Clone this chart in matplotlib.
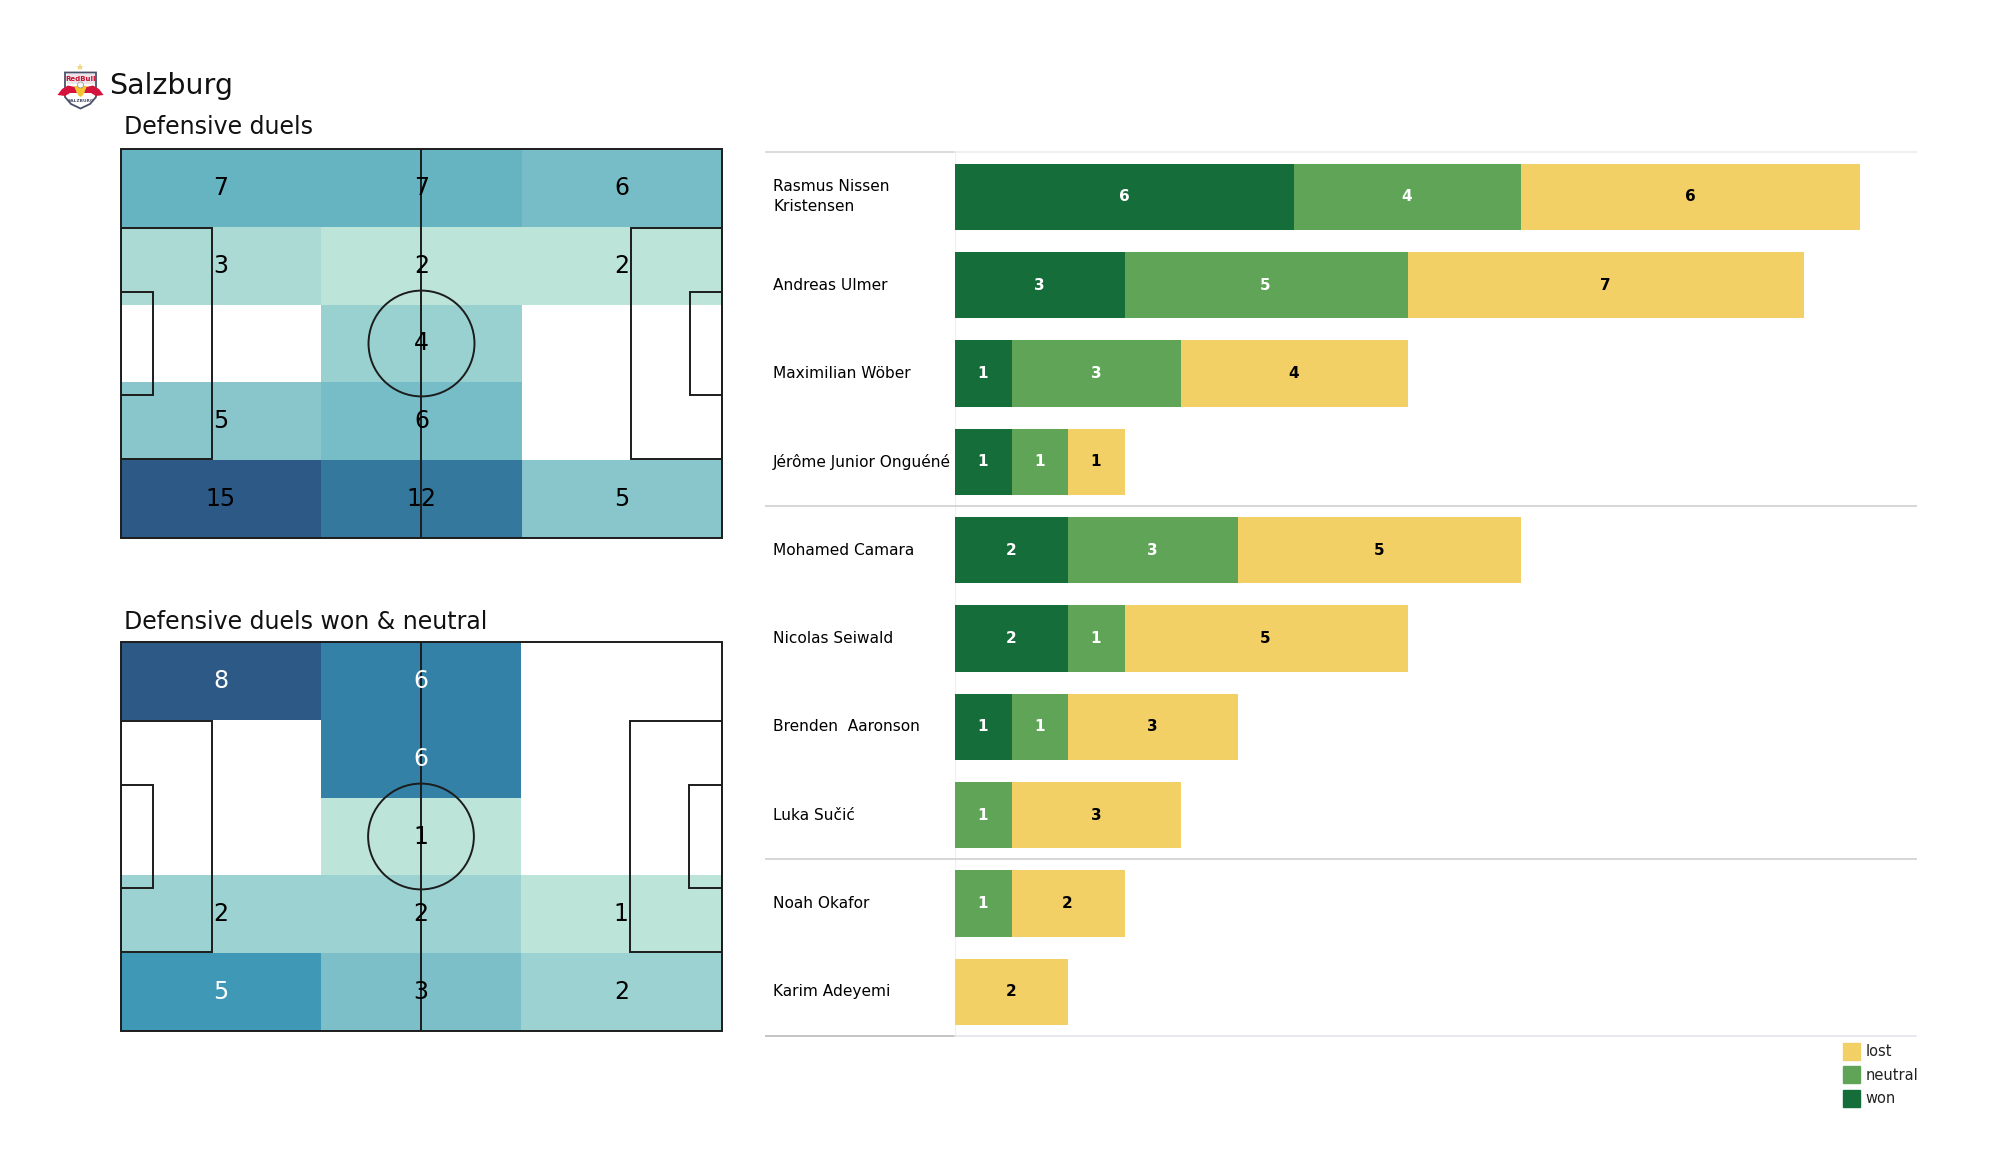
#!/usr/bin/python
# -*- coding: utf-8 -*-

import numpy as np
import matplotlib
matplotlib.use('Agg')
import matplotlib.pyplot as plt
from matplotlib.colors import LinearSegmentedColormap
from matplotlib.patches import Rectangle, Ellipse, Polygon, Patch

W, H = 2000, 1175

team = 'Salzburg'
title_all = 'Defensive duels'
title_won = 'Defensive duels won & neutral'

# heat grids, top row first
duels_all = [[7, 7, 6],
             [3, 2, 2],
             [0, 4, 0],
             [5, 6, 0],
             [15, 12, 5]]
duels_won = [[8, 6, 0],
             [0, 6, 0],
             [0, 1, 0],
             [2, 2, 1],
             [5, 3, 2]]

players = ['Rasmus Nissen\nKristensen', 'Andreas Ulmer', 'Maximilian Wöber',
           'Jérôme Junior Onguéné', 'Mohamed Camara', 'Nicolas Seiwald',
           'Brenden  Aaronson', 'Luka Sučić', 'Noah Okafor', 'Karim Adeyemi']
won = [6, 3, 1, 1, 2, 2, 1, 0, 0, 0]
neutral = [4, 5, 3, 1, 3, 1, 1, 1, 1, 0]
lost = [6, 7, 4, 1, 5, 5, 3, 3, 2, 2]
group_breaks = [4, 8]

GREEN_DARK = '#156D3A'
GREEN = '#60A557'
YELLOW = '#F3D066'
XMAX = 16.985
LINE = '#1c1c1c'

heat = LinearSegmentedColormap.from_list(
    'heat', [(0.0, '#bce4d8'), (0.17, '#95cecf'), (0.33, '#72bac6'), (0.5, '#4ba5ba'),
             (0.6, '#3a93b3'), (0.72, '#3380a5'), (0.78, '#34769b'), (1.0, '#2c5985')])


def px_axes(fig, x0, y0, x1, y1):
    # axes from pixel box, y measured from the top
    return fig.add_axes([x0 / W, 1 - y1 / H, (x1 - x0) / W, (y1 - y0) / H])


def draw_pitch(ax):
    kw = dict(fill=False, ec=LINE, lw=1.4, zorder=3)
    ax.add_patch(Rectangle((0, 0), 100, 100, clip_on=False, **kw))
    ax.plot([50, 50], [0, 100], color=LINE, lw=1.4, zorder=3)
    ax.add_patch(Ellipse((50, 50), 17.6, 27.2, **kw))
    for x, w1, w2 in [(0, 15.2, 5.4), (100, -15.2, -5.4)]:
        ax.add_patch(Rectangle((x, 20.2), w1, 59.6, **kw))
        ax.add_patch(Rectangle((x, 36.7), w2, 26.6, **kw))


def draw_heat(ax, grid, white_from):
    grid = np.array(grid)
    masked = np.ma.masked_equal(grid, 0)
    ax.pcolormesh(np.linspace(0, 100, 4), np.linspace(100, 0, 6), masked,
                  cmap=heat, vmin=masked.min(), vmax=masked.max(), zorder=1)
    for r in range(grid.shape[0]):
        for c in range(grid.shape[1]):
            if grid[r, c] == 0:
                continue
            color = 'white' if grid[r, c] >= white_from else 'black'
            ax.text((c + 0.5) * 100 / 3, 100 - (r + 0.5) * 20, str(grid[r, c]),
                    ha='center', va='center', fontsize=17, color=color, zorder=4)
    draw_pitch(ax)
    ax.set_xlim(0, 100)
    ax.set_ylim(0, 100)
    ax.axis('off')


def draw_badge(ax):
    ax.set_xlim(57, 104)
    ax.set_ylim(112, 62)
    ax.axis('off')
    ax.plot([80], [66.5], marker='*', ms=6, color='#F0D98A', mew=0)
    ax.add_patch(Polygon([(65, 72.5), (96, 72.5), (96, 97), (90, 104), (80.5, 108.5),
                          (71, 104), (65, 97)], fc='white', ec='#4a5068', lw=1.3))
    ax.add_patch(Rectangle((66.5, 74), 28, 10, fc='#EDE3E8', ec='none'))
    ax.text(80.5, 78.6, 'RedBull', fontsize=5, fontweight='bold', color='#C8102E',
            ha='center', va='center')
    ax.add_patch(Polygon([(57.5, 95), (62, 89), (68, 85.5), (75, 87), (77, 93), (70, 93), (65, 96)],
                         fc='#D4143C', ec='none'))
    ax.add_patch(Polygon([(103.5, 95), (99, 89), (93, 85.5), (86, 87), (84, 93), (91, 93), (96, 96)],
                         fc='#D4143C', ec='none'))
    ax.add_patch(Polygon([(74, 86), (87, 86), (83, 95), (80.5, 97), (78, 95)],
                         fc='#F5C52E', ec='none'))
    ax.add_patch(Ellipse((80.5, 85), 6, 6, fc='#F8F8F8', ec='#777777', lw=0.4))
    ax.text(80.5, 101.5, 'SALZBURG', fontsize=3.2, fontweight='bold', color='#4a5068',
            ha='center', va='center')


def draw_bars(ax):
    y = np.arange(len(players))
    left = np.zeros(len(players))
    for values, color, tcolor in [(won, GREEN_DARK, 'white'), (neutral, GREEN, 'white'),
                                  (lost, YELLOW, 'black')]:
        values = np.array(values)
        ax.barh(y, values, left=left, height=0.75, color=color, zorder=2)
        for i, v in enumerate(values):
            if v:
                ax.text(left[i] + v / 2 - 0.01, i, str(v), ha='center', va='center',
                        fontsize=11, fontweight='bold', color=tcolor, zorder=3)
        left = left + values

    ax.set_xlim(0, XMAX)
    ax.set_ylim(len(players) - 0.5, -0.5)
    ax.set_xticks([])
    ax.set_yticks(y)
    ax.set_yticklabels(players, fontsize=11.1, ha='left', linespacing=1.38, va='center')
    ax.tick_params(axis='y', length=0, pad=131)
    for s in ax.spines.values():
        s.set_visible(False)

    # row group rules, they run out over the name column
    x_left = -189 / 56.6
    ax.plot([x_left, 0], [-0.5, -0.5], color='#d4d4d4', lw=1.2, clip_on=False)
    ax.plot([0, XMAX], [-0.5, -0.5], color='#ececec', lw=1.2, clip_on=False)
    for b in group_breaks:
        ax.plot([x_left, XMAX], [b - 0.5, b - 0.5], color='#d6d6d6', lw=1.4, clip_on=False)
    ax.plot([x_left, 0], [9.5, 9.5], color='#c4c4c4', lw=1.4, clip_on=False)
    ax.plot([0, XMAX], [9.5, 9.5], color='#e4e4ec', lw=1.2, clip_on=False)
    ax.axvline(0, color='#f0f0f0', lw=1, zorder=1)

    handles = [Patch(color=YELLOW, label='lost'), Patch(color=GREEN, label='neutral'),
               Patch(color=GREEN_DARK, label='won')]
    ax.legend(handles=handles, loc='upper right', bbox_to_anchor=(1.002, -0.008), frameon=False,
              fontsize=10.5, handlelength=1.15, handleheight=1.41, handletextpad=0.35,
              labelspacing=0.44, borderpad=0, borderaxespad=0, labelcolor='#222222')


if __name__ == '__main__':
    plt.rcParams['font.family'] = 'DejaVu Sans'
    fig = plt.figure(figsize=(W / 100, H / 100), dpi=100)

    draw_badge(px_axes(fig, 57, 62, 104, 112))
    fig.text(109 / W, 1 - 85.5 / H, team, fontsize=20.5, va='center', ha='left', color='#111111')
    fig.text(124 / W, 1 - 127 / H, title_all, fontsize=17, va='center', ha='left', color='#111111')
    fig.text(124 / W, 1 - 622 / H, title_won, fontsize=17, va='center', ha='left', color='#111111')

    draw_heat(px_axes(fig, 120.5, 149, 722.5, 538), duels_all, 99)
    draw_heat(px_axes(fig, 120.5, 642, 721.5, 1031), duels_won, 5)
    draw_bars(px_axes(fig, 955, 152.5, 1916, 1036))

    fig.savefig('out.png', dpi=100)
